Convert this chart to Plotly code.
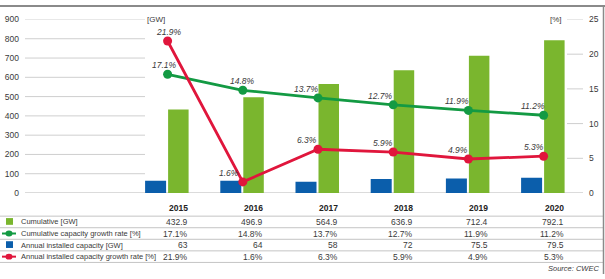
import plotly.graph_objects as go

# ---------------- data ----------------
years = ["2015", "2016", "2017", "2018", "2019", "2020"]
cumulative_gw = [432.9, 496.9, 564.9, 636.9, 712.4, 792.1]
cumulative_growth_pct = [17.1, 14.8, 13.7, 12.7, 11.9, 11.2]
annual_gw = [63, 64, 58, 72, 75.5, 79.5]
annual_growth_pct = [21.9, 1.6, 6.3, 5.9, 4.9, 5.3]
left_ticks = [0, 100, 200, 300, 400, 500, 600, 700, 800, 900]
right_ticks = [0, 5, 10, 15, 20, 25]
row_labels = ["Cumulative [GW]", "Cumulative capacity growth rate [%]",
              "Annual installed capacity [GW]", "Annual installed capacity growth rate [%]"]

# ---------------- styling ----------------
W, H = 605, 279
FONT = "Liberation Sans Narrow, Liberation Sans, Arial, sans-serif"
TXT = "#3a3a3a"
GREEN_BAR = "#7ab62e"
BLUE_BAR = "#0b5eab"
GREEN_LINE = "#139a43"
RED_LINE = "#e0163c"
GRID = "#cfcfcf"

def px(x):
    return x / W

def py(y):
    return (H - y) / H

plot_x0, plot_x1 = 25, 583
center0, step = 167.6, 75.2
x_range = [(plot_x0 - center0) / step, (plot_x1 - center0) / step]

fig = go.Figure()

fig.add_trace(go.Bar(x=years, y=annual_gw, marker_color=BLUE_BAR, marker_line_width=0,
                     width=21 / step, offset=-22.5 / step, name="Annual installed capacity [GW]"))
fig.add_trace(go.Bar(x=years, y=cumulative_gw, marker_color=GREEN_BAR, marker_line_width=0,
                     width=20.5 / step, offset=0.5 / step, name="Cumulative [GW]"))
fig.add_trace(go.Scatter(x=years, y=cumulative_growth_pct, yaxis="y2", mode="lines+markers",
                         line=dict(color=GREEN_LINE, width=2.8), marker=dict(size=9, color=GREEN_LINE),
                         name="Cumulative capacity growth rate [%]"))
fig.add_trace(go.Scatter(x=years, y=annual_growth_pct, yaxis="y2", mode="lines+markers",
                         line=dict(color=RED_LINE, width=2.8), marker=dict(size=9, color=RED_LINE),
                         name="Annual installed capacity growth rate [%]"))

shapes = []
annotations = []

# left gridlines (only in the left, label-column region)
for t in left_ticks[1:]:
    shapes.append(dict(type="line", xref="paper", yref="y", x0=px(25), x1=px(145), y0=t, y1=t,
                       line=dict(color=GRID, width=1), layer="below"))
shapes.append(dict(type="line", xref="paper", yref="y", x0=px(25), x1=px(583), y0=0, y1=0,
                   line=dict(color=GRID, width=1.5), layer="below"))
# right short tick lines
for t in right_ticks[1:]:
    shapes.append(dict(type="line", xref="paper", yref="y2", x0=px(567), x1=px(583), y0=t, y1=t,
                       line=dict(color=GRID, width=1), layer="below"))

# data labels on lines (category axis: use serial index for annotation x)
cum_dx = [-3, 0, -12, -13, -11, -11]
ann_dx = [1, -14, -11, -10, -10, -10]
for i, y in enumerate(years):
    annotations.append(dict(x=i, y=cumulative_growth_pct[i], xref="x", yref="y2",
                            text=f"<i>{cumulative_growth_pct[i]}%</i>", showarrow=False,
                            xshift=cum_dx[i], yshift=9, font=dict(size=8.5, color=TXT, family=FONT)))
    annotations.append(dict(x=i, y=annual_growth_pct[i], xref="x", yref="y2",
                            text=f"<i>{annual_growth_pct[i]}%</i>", showarrow=False,
                            xshift=ann_dx[i], yshift=9, font=dict(size=8.5, color=TXT, family=FONT)))

# unit labels
annotations.append(dict(x=px(145), y=py(15), xref="paper", yref="paper", text="[GW]", showarrow=False,
                        xanchor="left", yanchor="middle", font=dict(size=8, color=TXT, family=FONT)))
annotations.append(dict(x=px(564), y=py(15), xref="paper", yref="paper", text="[%]", showarrow=False,
                        xanchor="right", yanchor="middle", font=dict(size=8, color=TXT, family=FONT)))

# ---------------- table ----------------
row_y = [225, 237, 249, 261]
for ly in [219, 231, 243, 255, 267]:
    shapes.append(dict(type="line", xref="paper", yref="paper", x0=0, x1=px(603), y0=py(ly), y1=py(ly),
                       line=dict(color="#c4c4c4", width=1)))

for i, y in enumerate(years):
    annotations.append(dict(x=i, y=py(211), xref="x", yref="paper", text=f"<b>{y}</b>", showarrow=False,
                            xanchor="right", yanchor="middle", xshift=22,
                            font=dict(size=8.5, color="#222", family=FONT)))
    vals = [f"{cumulative_gw[i]}", f"{cumulative_growth_pct[i]}%", f"{annual_gw[i]:g}", f"{annual_growth_pct[i]}%"]
    for r, v in enumerate(vals):
        annotations.append(dict(x=i, y=py(row_y[r]), xref="x", yref="paper", text=v, showarrow=False,
                                xanchor="right", yanchor="middle", xshift=22,
                                font=dict(size=8.5, color=TXT, family=FONT)))

for r, lab in enumerate(row_labels):
    annotations.append(dict(x=px(19), y=py(row_y[r]), xref="paper", yref="paper", text=lab, showarrow=False,
                            xanchor="left", yanchor="middle", font=dict(size=7.5, color=TXT, family=FONT)))

# legend symbols
shapes.append(dict(type="rect", xref="paper", yref="paper", x0=px(6), x1=px(13), y0=py(228), y1=py(221),
                   fillcolor=GREEN_BAR, line_width=0))
shapes.append(dict(type="rect", xref="paper", yref="paper", x0=px(6), x1=px(13), y0=py(252), y1=py(245),
                   fillcolor=BLUE_BAR, line_width=0))
for yy, col in [(237, GREEN_LINE), (261, RED_LINE)]:
    shapes.append(dict(type="line", xref="paper", yref="paper", x0=px(2), x1=px(16), y0=py(yy), y1=py(yy),
                       line=dict(color=col, width=2)))
    shapes.append(dict(type="circle", xref="paper", yref="paper", x0=px(5.5), x1=px(12.5), y0=py(yy + 3),
                       y1=py(yy - 3), fillcolor=col, line_width=0))

# source
annotations.append(dict(x=px(601), y=py(273), xref="paper", yref="paper", text="<i>Source: CWEC</i>",
                        showarrow=False, xanchor="right", yanchor="middle",
                        font=dict(size=7.5, color=TXT, family=FONT)))

# frame
shapes.append(dict(type="line", xref="paper", yref="paper", x0=0, x1=1, y0=py(1), y1=py(1),
                   line=dict(color="#8a8a8a", width=2)))
shapes.append(dict(type="line", xref="paper", yref="paper", x0=px(603.5), x1=px(603.5), y0=0, y1=py(1),
                   line=dict(color="#8a8a8a", width=1.5)))

fig.update_layout(
    width=W, height=H, margin=dict(l=0, r=0, t=0, b=0),
    paper_bgcolor="white", plot_bgcolor="rgba(0,0,0,0)",
    showlegend=False, barmode="overlay",
    font=dict(family=FONT, color=TXT, size=9),
    xaxis=dict(domain=[px(plot_x0), px(plot_x1)], type="category", range=x_range,
               showticklabels=False, showgrid=False, zeroline=False, showline=False, ticks=""),
    yaxis=dict(domain=[py(195), py(15)], range=[0, 900], tickvals=left_ticks, showgrid=False,
               zeroline=False, showline=False, ticks="", ticklabelstandoff=5,
               tickfont=dict(size=8.5, color=TXT, family=FONT)),
    yaxis2=dict(domain=[py(195), py(15)], range=[0, 25], tickvals=right_ticks, overlaying="y",
                side="right", showgrid=False, zeroline=False, showline=False, ticks="",
                ticklabelstandoff=5, tickfont=dict(size=8.5, color=TXT, family=FONT)),
    shapes=shapes, annotations=annotations,
)

fig.write_html("out.html")
